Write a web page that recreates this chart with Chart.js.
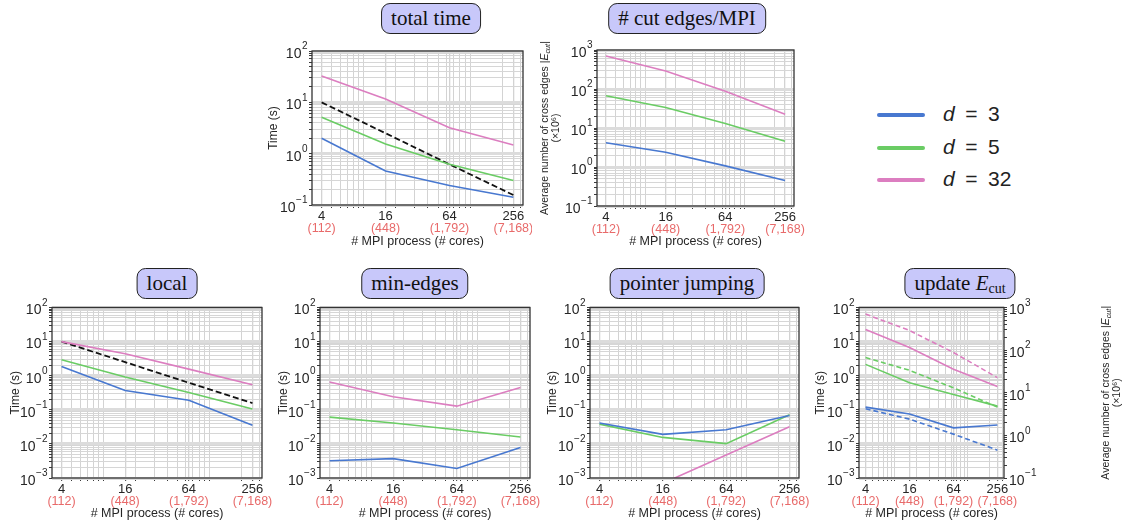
<!DOCTYPE html>
<html>
<head>
<meta charset="utf-8">
<script src="https://cdn.jsdelivr.net/npm/chart.js@4.4.0/dist/chart.umd.min.js"></script>
<style>
body { margin: 0; width: 1132px; height: 529px; background: #fff; position: relative; overflow: hidden; font-family: "Liberation Sans", Arial, sans-serif; }
canvas { position: absolute; }
.tbox { position: absolute; height: 29px; line-height: 29px; padding: 0 9px; background: #c8c8fa; border: 1.3px solid #222; border-radius: 9px;
        font-family: "Liberation Serif", "Times New Roman", serif; font-size: 21px; color: #111; transform: translateX(-50%); white-space: nowrap; }
.tbox sub { font-size: 14px; vertical-align: -3px; line-height: 0; }
#legend { position: absolute; left: 877px; top: 98px; }
.lrow { height: 32.5px; line-height: 32.5px; font-size: 21px; color: #222; white-space: nowrap; }
.lline { display: inline-block; width: 48px; height: 4px; border-radius: 2px; vertical-align: middle; margin-right: 18px; }
</style>
</head>
<body>

<div class="tbox" style="left:431px; top:3px;">total time</div>
<div class="tbox" style="left:687px; top:3px;"># cut edges/MPI</div>
<div class="tbox" style="left:167px; top:268px;">local</div>
<div class="tbox" style="left:415px; top:268px;">min-edges</div>
<div class="tbox" style="left:687px; top:268px;">pointer jumping</div>
<div class="tbox" style="left:960px; top:268px;">update <i>E</i><sub>cut</sub></div>

<div id="legend"></div>

<canvas id="chartTotal"></canvas>
<canvas id="chartCut"></canvas>
<canvas id="chartLocal"></canvas>
<canvas id="chartMin"></canvas>
<canvas id="chartPointer"></canvas>
<canvas id="chartUpdate"></canvas>

<script>
// Data ----------
var processes = [4, 16, 64, 256];
var coreLabels = ["(112)", "(448)", "(1,792)", "(7,168)"];
var dValues = [3, 5, 32];
var seriesColors = ["#4878d0", "#6acc64", "#dc7ec0"];

// x grid lines (matplotlib log minors + the process counts)
var xGridValues = [4, 5, 6, 7, 8, 9, 10, 16, 20, 30, 40, 50, 60, 64, 70, 80, 90, 100, 200, 256, 300];

// total time (s)
var totalD3 = [2.0, 0.46, 0.24, 0.142];
var totalD5 = [5.1, 1.55, 0.62, 0.30];
var totalD32 = [32.6, 11.6, 3.2, 1.48];
var totalIdeal = [10, 2.5, 0.62, 0.156];

// average number of cut edges (x10^6)
var cutD3 = [4.2, 2.4, 1.07, 0.45];
var cutD5 = [67, 33.6, 13, 4.6];
var cutD32 = [700, 288, 88, 22.6];

// local (s)
var localD3 = [1.87, 0.37, 0.19, 0.035];
var localD5 = [2.93, 0.91, 0.32, 0.105];
var localD32 = [10, 4.4, 1.56, 0.54];
var localIdeal = [10, 2.5, 0.62, 0.158];

// min-edges (s)
var minD3 = [0.0032, 0.0037, 0.0019, 0.0078];
var minD5 = [0.061, 0.041, 0.026, 0.016];
var minD32 = [0.65, 0.24, 0.128, 0.45];

// pointer jumping (s)
var pointerD3 = [0.041, 0.019, 0.026, 0.068];
var pointerD5 = [0.038, 0.0155, 0.0102, 0.072];
var pointerD32 = [0.0003, 0.0007, 0.0047, 0.032];

// update E_cut (s)
var updateD3 = [0.12, 0.075, 0.0296, 0.036];
var updateD5 = [2.15, 0.62, 0.28, 0.128];
var updateD32 = [22.5, 6.7, 1.55, 0.48];


// Helpers ----------
Chart.defaults.font.family = '"Liberation Sans", Arial, sans-serif';
Chart.defaults.color = '#262626';

function isDecade(v) {
    var e = Math.log10(v);
    return Math.abs(e - Math.round(e)) < 1e-6;
}
function logTicks(minExp, maxExp) {
    var out = [];
    for (var e = minExp; e <= maxExp; e++) {
        for (var m = 1; m <= 9; m++) {
            if (e == maxExp && m > 1) break;
            out.push(Number((m * Math.pow(10, e)).toPrecision(2)));
        }
    }
    return out;
}

function line(data, color, yAxisID, dash, width) {
    return {
        data: data, borderColor: color, borderWidth: width || 1.6, borderDash: dash || [],
        pointRadius: 0, fill: false, tension: 0, yAxisID: yAxisID || 'y'
    };
}

function xAxis(height, titlePad) {
    return {
        type: 'logarithmic', min: 3.249, max: 315.2,
        afterBuildTicks: function (s) { s.ticks = xGridValues.map(function (v) { return { value: v }; }); },
        afterFit: function (s) { s.height = height; },
        ticks: {
            autoSkip: false, maxRotation: 0, minRotation: 0, padding: 1, color: '#262626', font: { size: 13 },
            callback: function (v) { return processes.indexOf(v) >= 0 ? String(v) : ''; }
        },
        grid: {
            color: '#d3d3d3',
            lineWidth: function (c) { return c.tick && processes.indexOf(c.tick.value) >= 0 ? 1.3 : 1; },
            tickLength: 3, tickColor: '#3a3a3a', tickWidth: 1
        },
        border: { display: false },
        title: { display: true, text: '# MPI process (# cores)', font: { size: 12.5 }, color: '#262626', padding: { top: 0, bottom: titlePad } }
    };
}

function yAxis(minExp, maxExp, position, width, titleText, titlePad, onArea) {
    return {
        type: 'logarithmic', position: position, min: Math.pow(10, minExp), max: Math.pow(10, maxExp),
        afterBuildTicks: function (s) { s.ticks = logTicks(minExp, maxExp).map(function (v) { return { value: v }; }); },
        afterFit: function (s) { s.width = width; },
        // decade labels are drawn by panelExtras (10 + raised exponent)
        ticks: { autoSkip: false, padding: 2, callback: function () { return ''; } },
        grid: {
            drawOnChartArea: onArea !== false,
            color: function (c) { return c.tick && isDecade(c.tick.value) ? '#dcdcdc' : '#d6d6d6'; },
            lineWidth: function (c) { return c.tick && isDecade(c.tick.value) ? 3 : 1; },
            tickLength: 3, tickColor: '#3a3a3a', tickWidth: 1
        },
        border: { display: false },
        title: titleText ? { display: true, text: titleText, font: { size: 12 }, color: '#262626', padding: { top: titlePad, bottom: 0 } }
                         : { display: false }
    };
}

function drawDecadeLabels(ctx, scale, a) {
    var left = scale.options.position === 'left';
    ctx.save();
    ctx.fillStyle = '#262626';
    ctx.textBaseline = 'middle';
    ctx.textAlign = 'left';
    scale.ticks.forEach(function (t) {
        if (!isDecade(t.value)) return;
        var y = scale.getPixelForValue(t.value);
        var ex = String(Math.round(Math.log10(t.value))).replace('-', '\u2212');
        ctx.font = '14px "Liberation Sans"';
        var w1 = ctx.measureText('10').width;
        ctx.font = '10px "Liberation Sans"';
        var w2 = ctx.measureText(ex).width;
        var x0 = left ? a.left - 5 - w1 - w2 : a.right + 5;
        ctx.font = '14px "Liberation Sans"';
        ctx.fillText('10', x0, y + 3);
        ctx.font = '10px "Liberation Sans"';
        ctx.fillText(ex, x0 + w1 + 0.5, y - 4.5);
    });
    ctx.restore();
}

// axes frame, decade labels, core counts in red, and |E_cut| axis labels
var panelExtras = {
    id: 'panelExtras',
    afterDatasetsDraw: function (chart) {
        var a = chart.chartArea, ctx = chart.ctx;
        ctx.save();
        ctx.strokeStyle = '#333';
        ctx.lineWidth = 1.3;
        ctx.strokeRect(a.left, a.top, a.right - a.left, a.bottom - a.top);
        ctx.restore();
    },
    afterDraw: function (chart, args, opts) {
        var ctx = chart.ctx, xs = chart.scales.x, a = chart.chartArea;
        drawDecadeLabels(ctx, chart.scales.y, a);
        if (chart.scales.y2) drawDecadeLabels(ctx, chart.scales.y2, a);
        ctx.save();
        ctx.font = '12.5px "Liberation Sans"';
        ctx.fillStyle = '#e86a6a';
        ctx.textAlign = 'center';
        ctx.textBaseline = 'middle';
        processes.forEach(function (p, i) {
            ctx.fillText(coreLabels[i], xs.getPixelForValue(p), a.bottom + 24);
        });
        ctx.restore();
        if (opts.cutLabelX) drawCutLabel(ctx, opts.cutLabelX, (a.top + a.bottom) / 2);
    }
};

function drawCutLabel(ctx, x, cy) {
    var f = 10.5;
    var normal = f + 'px "Liberation Sans"';
    var ital = 'italic ' + f + 'px "Liberation Sans"';
    var small = 'italic ' + (f * 0.7).toFixed(1) + 'px "Liberation Sans"';
    var parts = [
        { t: 'Average number of cross edges |', font: normal, dy: 0 },
        { t: 'E', font: ital, dy: 0 },
        { t: 'cut', font: small, dy: 2.5 },
        { t: '|', font: normal, dy: 0 }
    ];
    ctx.save();
    ctx.fillStyle = '#262626';
    ctx.textBaseline = 'middle';
    var total = 0;
    parts.forEach(function (p) { ctx.font = p.font; p.w = ctx.measureText(p.t).width; total += p.w; });
    ctx.translate(x, cy);
    ctx.rotate(-Math.PI / 2);
    var px = -total / 2;
    parts.forEach(function (p) { ctx.font = p.font; ctx.fillText(p.t, px, p.dy); px += p.w; });
    ctx.font = normal;
    ctx.textAlign = 'center';
    ctx.fillText('(×10⁶)', 0, 11.5);
    ctx.restore();
}

function makePanel(id, box, area, datasets, scales, extras) {
    var canvas = document.getElementById(id);
    canvas.width = box.w;
    canvas.height = box.h;
    canvas.style.left = box.x + 'px';
    canvas.style.top = box.y + 'px';
    return new Chart(canvas.getContext('2d'), {
        type: 'line',
        data: { datasets: datasets.map(function (d) {
            d.data = d.data.map(function (v, i) { return { x: processes[i], y: v }; });
            return d;
        }) },
        options: {
            responsive: false, animation: false, devicePixelRatio: 1,
            layout: { padding: { top: area.t - box.y, right: box.x + box.w - area.r, left: 0, bottom: 0 } },
            scales: scales,
            plugins: { legend: { display: false }, tooltip: { enabled: false }, panelExtras: extras || {} }
        },
        plugins: [panelExtras]
    });
}


// Legend ----------
var legendDiv = document.getElementById('legend');
dValues.forEach(function (d, i) {
    var row = document.createElement('div');
    row.className = 'lrow';
    row.innerHTML = '<span class="lline" style="background:' + seriesColors[i] + '"></span><i>d</i>&ensp;=&ensp;' + d;
    legendDiv.appendChild(row);
});


// Panels ----------
var blue = seriesColors[0], green = seriesColors[1], pink = seriesColors[2];

makePanel('chartTotal', { x: 262, y: 40, w: 270, h: 212 }, { t: 51, r: 523 },
    [line(totalD3, blue), line(totalD5, green), line(totalD32, pink), line(totalIdeal, '#111', 'y', [6, 3], 1.8)],
    { x: xAxis(47, 3), y: yAxis(-1, 2, 'left', 50, 'Time (s)', 4) });

makePanel('chartCut', { x: 532, y: 40, w: 275, h: 212 }, { t: 50, r: 794 },
    [line(cutD3, blue), line(cutD5, green), line(cutD32, pink)],
    { x: xAxis(46, 3), y: yAxis(-1, 3, 'left', 65, null, 0) },
    { cutLabelX: 13 });

makePanel('chartLocal', { x: 0, y: 298, w: 282, h: 231 }, { t: 307.5, r: 262 },
    [line(localD3, blue), line(localD5, green), line(localD32, pink), line(localIdeal, '#111', 'y', [6, 3], 1.8)],
    { x: xAxis(51, 8), y: yAxis(-3, 2, 'left', 52, 'Time (s)', 8) });

makePanel('chartMin', { x: 272, y: 298, w: 270, h: 231 }, { t: 307.5, r: 530 },
    [line(minD3, blue), line(minD5, green), line(minD32, pink)],
    { x: xAxis(51, 8), y: yAxis(-3, 2, 'left', 48, 'Time (s)', 4) });

makePanel('chartPointer', { x: 542, y: 298, w: 268, h: 231 }, { t: 307.5, r: 799 },
    [line(pointerD3, blue), line(pointerD5, green), line(pointerD32, pink)],
    { x: xAxis(51, 8), y: yAxis(-3, 2, 'left', 48, 'Time (s)', 3) });

makePanel('chartUpdate', { x: 810, y: 298, w: 322, h: 231 }, { t: 307.5, r: 1068 },
    [line(updateD3, blue), line(updateD5, green), line(updateD32, pink),
     line(cutD3, blue, 'y2', [5, 3]), line(cutD5, green, 'y2', [5, 3]), line(cutD32, pink, 'y2', [5, 3])],
    { x: xAxis(51, 8), y: yAxis(-3, 2, 'left', 49, 'Time (s)', 3), y2: yAxis(-1, 3, 'right', 64, null, 0, false) },
    { cutLabelX: 296 });
</script>
</body>
</html>
